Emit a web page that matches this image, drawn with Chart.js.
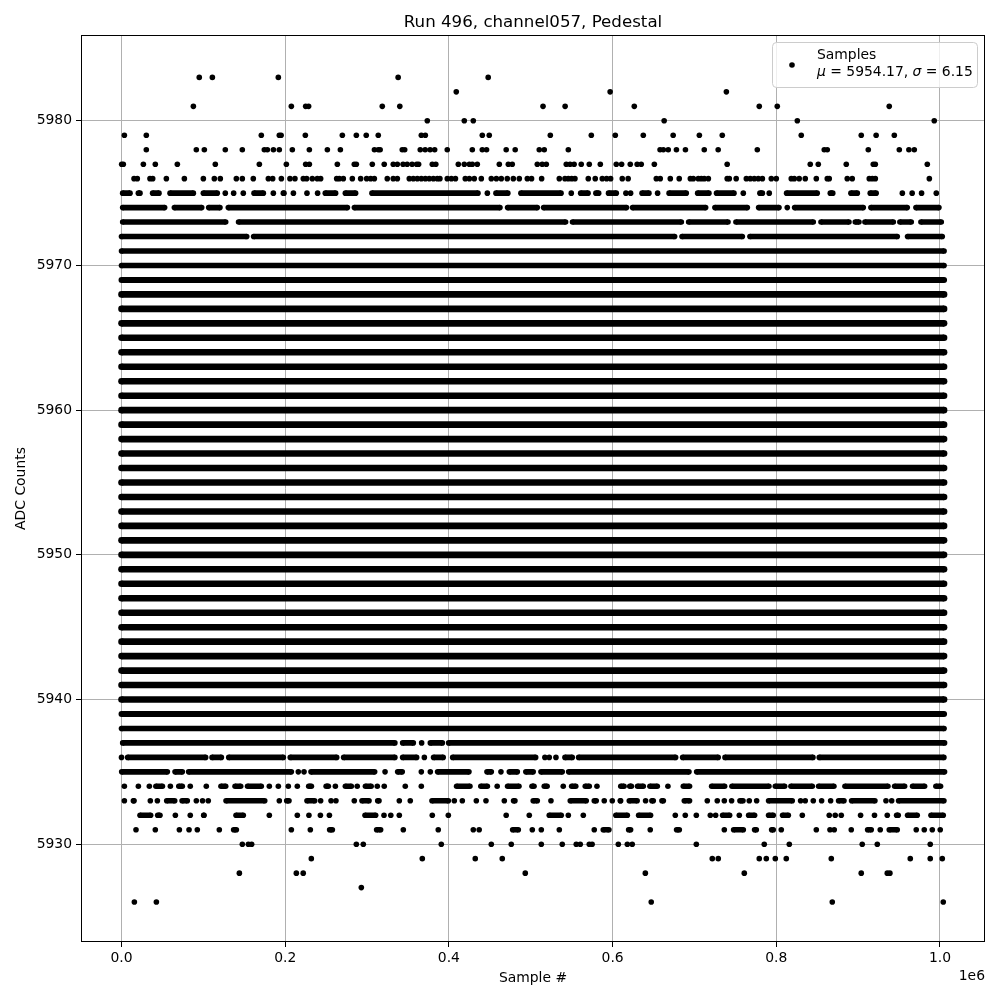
<!DOCTYPE html>
<html>
<head>
<meta charset="utf-8">
<title>Run 496, channel057, Pedestal</title>
<script src="https://cdn.jsdelivr.net/npm/chart.js@4"></script>
<style>
    html, body { margin: 0; padding: 0; background: #fff; }
    canvas { display: block; }
</style>
</head>
<body>
<canvas id="chart" width="1000" height="1000"></canvas>
<script>
'use strict';

/******************************************************************************************
DATA (x in thousands of samples, a number is one dot, [a, b] is a run of touching dots)
******************************************************************************************/

const title_text = 'Run 496, channel057, Pedestal';
const x_label = 'Sample #';
const y_label = 'ADC Counts';
const x_offset_label = '1e6';
const x_ticks = [0, 200000, 400000, 600000, 800000, 1000000];
const y_ticks = [5930, 5940, 5950, 5960, 5970, 5980];
const legend_name = 'Samples';
const legend_mu = '5954.17';
const legend_sigma = '6.15';

// rows that are a solid band from the first to the last sample
const solid_levels = [5938, 5939, 5940, 5941, 5942, 5943, 5944, 5945, 5946, 5947, 5948, 5949, 5950, 5951, 5952, 5953,
    5954, 5955, 5956, 5957, 5958, 5959, 5960, 5961, 5962, 5963, 5964, 5965, 5966, 5967, 5968, 5969, 5970, 5971];
const solid_run = [[0, 1005]];

const row_5983 = [95, 111, 191.6, 338, 448];
const row_5982 = [409, 597, 739];
const row_5981 = [87.8, 207.5, 225, 228.6, 318.6, 340, 515, 542, 626.5, 779.2, 801.2, 938];
const row_5980 = [373.6, 418.8, 429.8, 663, 825.7, 993];
const row_5979 = [3.5, 30.3, 170.8, 192.8, 195, 224.6, 269.8, 286.9, 299, 313.7, 366.3, 371.2, 440.8, 449.3, 523.9, 574,
    603.3, 637.5, 674, 706, 734, 830.5, 903.8, 922, 944.2];
const row_5978 = [30.3, 91.4, 101.2, 126.8, 147.6, 174.5, 178.2, 185.6, 192.8, 208.7, 229.5, 251.5, 267.4, 309, 313.7, 316,
    343, 346, 365, 371, 377, 382.6, 398, 428.6, 440.8, 446, 470, 481, 510.4, 516.5, 545.9, 658, 662, 668, 678,
    689, 712, 729, 776.8, 858.6, 862.3, 912.4, 950.3, 962, 968.6];
const row_5977 = [0.2, 2.2, 26.7, 41.3, 68.2, 114.6, 168.4, 201.4, 225, 229.5, 263.7, 284.4, 286.9, 306.4, 321, 332, 337,
    344, 349, 355, 360.6, 363, 379.7, 384, 411.5, 418.8, 425, 428.6, 434.7, 461.6, 472.6, 477.4, 508, 514, 519, 543.4, 548, 553,
    561.7, 571.5, 585, 604.5, 611, 621.6, 630, 635, 651, 740, 841.5, 851.3, 885.5, 918.5, 921, 984.5];
const row_5976 = [15.3, 19.3, 34.8, 38.1, 54.8, 76.8, 100, 113.4, 120.7, 140.3, 147.6, 161, 179.4, 184.7, 195.3, 205.8, 211.9,
    222.1, 226.2, 233.1, 239.2, 243.3, 262.9, 266.1, 271, 282, 292.2, 299.5, 304.4, 308.9, 324.7, 332, 337, 351.6, 356.5, 361.4,
    366.3, 371.2, 376, 381, 385.8, 389, 398, 403, 408, 420, 425, 431, 439.6, 451.8, 458, 464, 471.3, 478.7, 486, 495.8, 501, 513.3,
    534.9, 541.8, 545.9, 550, 554, 570.3, 578.8, 587.4, 592.7, 597.6, 611.8, 619, 653.4, 658.2, 670.5, 681.4, 695, 698.6, 704.7,
    708.4, 712, 717, 740, 742.6, 751, 763.4, 768.2, 773.1, 778, 783, 793.9, 800, 818.3, 822, 828, 835.4, 848.9, 862.3, 864.7,
    886.7, 892.8, 913.6, 917.3, 921, 987];
const row_5975 = [[1.4, 10.4], [20.6, 22.6], [38, 45.8], [59.3, 87.8], [100, 117], 126.8, 137, 148.8, [161.9, 173.3], 185.5,
    [197.7, 198.5], 210, 226.6, 239.6, [249, 261.6], [273.5, 286], [306, 435.5], 447, [457.5, 472], [488, 537], 549.5, [561, 570],
    [579.6, 583], [595, 604.5], 616.3, 622, [636, 644.4], 655, [669, 690], [703.9, 717.7], [727, 748.3], 759.7, [780, 783], 791.4,
    [812.6, 850], [866, 869], [891.2, 899], [914.8, 922], 954, 966, 977.5, 995.5];
const row_5974 = [[1.4, 52.7], [64.6, 98], [106.5, 120.3], [130.5, 276], [284.5, 462.4], [471.7, 508], [515.7, 617], [624.4, 713.7],
    [725, 764.6], [778.4, 803.3], 813.4, [822.4, 906.3], [915.6, 960], [970.6, 998.7]];
const row_5973 = [[1.4, 127.3], [143, 542.6], [551, 684], [692.9, 741], [750.7, 845.2], [854.6, 888.8], [896.5, 901], [908.3, 943],
    [951, 964.9], [976.7, 1001.6]];
const row_5972 = [[0, 153], [161.4, 675.8], [684.8, 758.5], [767.8, 947.8], [960.4, 1002.8]];
const row_5937 = [[1.4, 334], [343.5, 356.5], 366.7, [377.3, 392], [399.7, 1005.6]];
const row_5936 = [0, [7.5, 102.8], [110.6, 122], [131, 197.7], [206.2, 262.9], [271.4, 334], [343.5, 360.6], 370, [381.3, 393],
    [404.6, 506], 517.3, 522.6, 530.8, [541.8, 550.7], [558.5, 677], [685.6, 729], [737.3, 844.8], [852.5, 1004.8]];
const row_5935 = [[0.2, 56], [65.4, 74.3], [82, 207.5], 216, 223, [231.5, 309.3], 322, [337.4, 343], 366.3, 377.3, [386.2, 424.5],
    [446.5, 451.8], 463.6, [473.8, 483.6], [494, 503], [512.5, 538.5], [546.3, 693.3], [702.7, 1005.6]];
const row_5934 = [3.5, 20.6, 34, [42, 50], 59.7, [70, 74.3], 84, 103.6, [121.5, 127.3], [138.7, 145.6], [154, 170.8], 180.6, 191.6,
    203.8, 214.8, [228.7, 232], [250, 252.7], 261.3, [273.5, 280.8], 288, [298, 305], 312.5, 321, 346.7, 366.3, [409.4, 425.7],
    [439, 447], 459, [471.7, 485.6], [501.5, 504], [516.5, 520], 539.7, [550, 555], [566.6, 571.5], 580.9, [610, 614], [621, 623],
    [630.5, 637.5], [645.6, 654.6], 667.6, [686.4, 694], [721, 736.9], [745.8, 791], [798.8, 810.2], [817.9, 844], [851.7, 870.4],
    [883.9, 936.4], [944.6, 956.8], [966.5, 981.2], [995, 1000.7]];
const row_5933 = [3.5, [14.5, 15.3], 35.2, 43.8, [55.2, 65], [74, 80.4], 91.4, 99, 106, [127.7, 175], 192.8, [201.8, 204.6],
    [226.6, 236], 243.3, 256, 262, 284.4, [293.8, 302.4], [313, 314.6], 339.4, 352.8, [379.3, 399.3], 406.6, 416.4, 433.5, 445.3,
    467.7, [479, 480.7], [503, 508], 524.7, [548.3, 567.8], [577.6, 580], 589.8, 599.6, [609.4, 609.8], [620.4, 630], 640.3,
    [648, 649.7], [660.3, 662], [687.6, 694], 715.7, 727.9, 736.5, 745.4, [755.6, 759.3], 767, 776, [790.6, 819.5], 829.7, 835.4,
    845.2, 855.4, 866.4, [876.1, 882.7], [892, 920.5], 934, 941, [949.4, 1004.8]];
const row_5932 = [[22.6, 35.6], [44.2, 47], 65.8, 84, [100.4, 100.8], [139.9, 148.8], 180.6, 214.8, 229, 243, 254, [297.5, 310.5],
    320.7, 329, 339.4, 379.7, 399.3, 470, 498.2, [522.6, 537.3], 545.9, 564.2, [604, 618], [631.8, 646.4], 676.6, 688.8, 702.3,
    719.4, 725.9, [734.4, 743], 754.8, [766.2, 773.5], [790.6, 796.3], [807.7, 814.7], 831.8, 864.7, 872, 879.4, 903, 920,
    935.6, [947, 949], [960.4, 972.2], [989, 1004]];
const row_5931 = [17.7, 41.3, 70.7, 82.5, 92.6, 119.5, [137, 140.3], 207.5, 230.7, [254.3, 257.6], [311.7, 316.6], 344.3, 387, 429.8,
    437, [477.9, 484.8], 501.9, 512.9, 534.9, 577.6, [588.6, 595.5], [619.6, 622], 646, [678.2, 681.5], 736.5, [747.9, 759.7],
    [773.5, 775.6], [794.3, 796.3], 806.1, 848.9, 865.6, 870.8, 891.6, [911.6, 916], 927, [938, 947.8], 971, 980.8, 990.6, 1000.3];
const row_5930 = [147.6, 155, 159, 286.9, 295.4, 390.7, 451.8, 476.2, 512.9, 538.5, 555.6, 560.5, 571.5, 575, 607, 618, 624, 702.3,
    785.3, 815.9, 905, 923.4, 988.1];
const row_5929 = [231.9, 367.5, 432.2, 465.2, 721.8, 729.1, 779.2, 787.8, 798.8, 812.2, 867.2, 963.7, 988.1, 1002.8];
const row_5928 = [144, 213.6, 222, 493.3, 640, 760.9, 903.8, 935.6, 938.8];
const row_5927 = [293];
const row_5926 = [15.7, 42.6, 647.2, 868.4, 1004];

const sparse_levels = [5983, 5982, 5981, 5980, 5979, 5978, 5977, 5976, 5975, 5974, 5973, 5972,
    5937, 5936, 5935, 5934, 5933, 5932, 5931, 5930, 5929, 5928, 5927, 5926];
const sparse_rows = [row_5983, row_5982, row_5981, row_5980, row_5979, row_5978, row_5977, row_5976, row_5975, row_5974, row_5973, row_5972,
    row_5937, row_5936, row_5935, row_5934, row_5933, row_5932, row_5931, row_5930, row_5929, row_5928, row_5927, row_5926];


/******************************************************************************************
DATASETS
******************************************************************************************/

// rows look heavier the more samples pile up on them
function row_thickness(level) {
    if (level >= 5940 && level <= 5968) return 6.6;
    if (level === 5939 || level === 5969) return 6;
    return 5.6;
}

// turn one row into points, null points keep separate runs from being joined
function build_row(level, row) {
    var points = [];
    row.forEach(function(item) {
        if (Array.isArray(item)) {
            points.push({x: item[0] * 1000, y: level});
            points.push({x: item[1] * 1000, y: level});
        } else {
            points.push({x: item * 1000, y: level});
        }
        points.push({x: null, y: null});
    });
    var thickness = row_thickness(level);
    return {
        label: legend_name,
        data: points,
        showLine: true,
        spanGaps: false,
        borderColor: '#000',
        backgroundColor: '#000',
        borderWidth: thickness,
        pointRadius: thickness / 2,
        pointBorderWidth: 0,
        pointHoverRadius: thickness / 2
    };
}

var datasets = [];
solid_levels.forEach(function(level) {
    datasets.push(build_row(level, solid_run));
});
sparse_levels.forEach(function(level, i) {
    datasets.push(build_row(level, sparse_rows[i]));
});


/******************************************************************************************
FRAME, LEGEND AND OFFSET TEXT
******************************************************************************************/

const font_name = '"DejaVu Sans"';

const frame_plugin = {
    id: 'frame',
    afterDraw: function(chart) {
        var ctx = chart.ctx;
        var area = chart.chartArea;
        ctx.save();

        // axes frame
        ctx.strokeStyle = '#000';
        ctx.lineWidth = 1;
        ctx.strokeRect(area.left + 0.5, area.top + 0.5, area.right - area.left - 1, area.bottom - area.top - 1);

        // legend box
        ctx.beginPath();
        ctx.roundRect(772.5, 42.5, 205, 45, 4);
        ctx.fillStyle = 'rgba(255, 255, 255, 0.8)';
        ctx.fill();
        ctx.strokeStyle = '#cccccc';
        ctx.stroke();

        // legend marker
        ctx.beginPath();
        ctx.arc(792, 65, 2.8, 0, Math.PI * 2);
        ctx.fillStyle = '#000';
        ctx.fill();

        // legend text, greek letters in oblique
        var upright = '13.9px ' + font_name;
        var oblique = 'oblique 13.9px ' + font_name;
        ctx.textAlign = 'left';
        ctx.textBaseline = 'alphabetic';
        ctx.font = upright;
        ctx.fillText(legend_name, 817, 59);
        var x = 817;
        [['\u03bc', oblique], [' = ' + legend_mu + ', ', upright], ['\u03c3', oblique], [' = ' + legend_sigma, upright]].forEach(function(part) {
            ctx.font = part[1];
            ctx.fillText(part[0], x, 76);
            x += ctx.measureText(part[0]).width;
        });

        // offset text of the x axis
        ctx.font = upright;
        ctx.textAlign = 'right';
        ctx.fillText(x_offset_label, 985, 980);
        ctx.restore();
    }
};


/******************************************************************************************
CHART
******************************************************************************************/

var ctx = document.getElementById('chart').getContext('2d');
var my_chart = new Chart(ctx, {
    type: 'scatter',
    data: {datasets: datasets},
    plugins: [frame_plugin],
    options: {
        responsive: false,
        animation: false,
        layout: {padding: {right: 15}},
        font: {family: font_name},
        plugins: {
            legend: {display: false},
            tooltip: {enabled: false},
            title: {
                display: true,
                text: title_text,
                fullSize: false,
                color: '#000',
                font: {family: font_name, size: 16.67, weight: 'normal', lineHeight: 1.2},
                padding: {top: 13, bottom: 2}
            }
        },
        scales: {
            x: {
                type: 'linear',
                min: -49500,
                max: 1055000,
                afterFit: function(scale) { scale.height = 58; },
                afterBuildTicks: function(scale) {
                    scale.ticks = x_ticks.map(function(v) { return {value: v}; });
                },
                ticks: {
                    color: '#000',
                    padding: 3,
                    maxRotation: 0,
                    font: {family: font_name, size: 13.9},
                    callback: function(value) { return (value / 1000000).toFixed(1); }
                },
                grid: {color: '#b0b0b0', lineWidth: 1, tickColor: '#000', tickLength: 5},
                border: {display: false},
                title: {
                    display: true,
                    text: x_label,
                    color: '#000',
                    font: {family: font_name, size: 13.9, lineHeight: 1.2},
                    padding: {top: 0, bottom: 13}
                }
            },
            y: {
                type: 'linear',
                min: 5923.24,
                max: 5985.93,
                afterFit: function(scale) { scale.width = 81; },
                afterBuildTicks: function(scale) {
                    scale.ticks = y_ticks.map(function(v) { return {value: v}; });
                },
                ticks: {
                    color: '#000',
                    padding: 4,
                    font: {family: font_name, size: 13.9},
                    callback: function(value) { return String(value); }
                },
                grid: {color: '#b0b0b0', lineWidth: 1, tickColor: '#000', tickLength: 5},
                border: {display: false},
                title: {
                    display: true,
                    text: y_label,
                    color: '#000',
                    font: {family: font_name, size: 13.9, lineHeight: 1.2},
                    padding: {top: 13, bottom: 0}
                }
            }
        }
    }
});
</script>
</body>
</html>
